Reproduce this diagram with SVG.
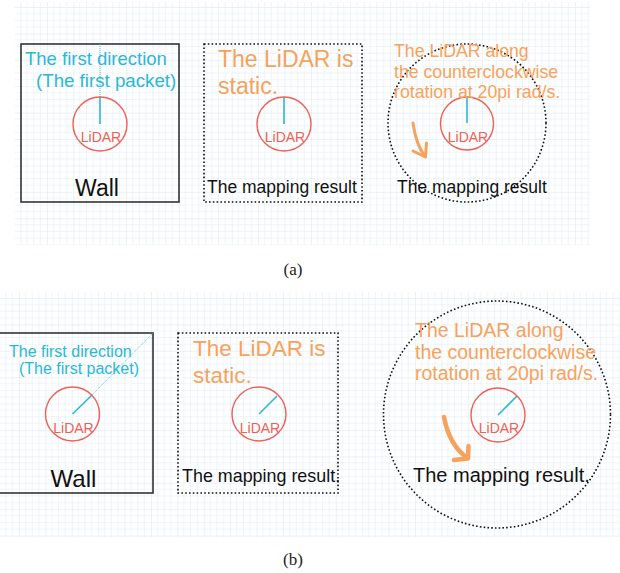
<svg xmlns="http://www.w3.org/2000/svg" width="620" height="573" viewBox="0 0 620 573">
  <defs>
    <!-- graph-paper background: minor lines every 6.6px, major every 26.4px -->
    <pattern id="grid-a" width="26.4" height="26.4" patternUnits="userSpaceOnUse" x="20.5" y="7">
      <path d="M6.6 0V26.4M13.2 0V26.4M19.8 0V26.4M0 6.6H26.4M0 13.2H26.4M0 19.8H26.4" stroke="#e8f1f8" stroke-width="0.8" fill="none"/>
      <path d="M0 0V26.4M0 0H26.4" stroke="#d6e5f0" stroke-width="1" fill="none"/>
    </pattern>
    <pattern id="grid-b" width="26.4" height="26.4" patternUnits="userSpaceOnUse" x="19" y="298">
      <path d="M6.6 0V26.4M13.2 0V26.4M19.8 0V26.4M0 6.6H26.4M0 13.2H26.4M0 19.8H26.4" stroke="#e8f1f8" stroke-width="0.8" fill="none"/>
      <path d="M0 0V26.4M0 0H26.4" stroke="#d6e5f0" stroke-width="1" fill="none"/>
    </pattern>
  </defs>
  <style>
    .wall { fill: none; stroke: #333; stroke-width: 1.6; }
    .dotted { fill: none; stroke: #111; stroke-width: 1.6; stroke-dasharray: 1.6 2.2; }
    .lidar { fill: none; stroke: #ef5f55; stroke-width: 1.4; }
    .lidar-label { font-family: "Liberation Sans", Arial, sans-serif; font-size: 14px; fill: #ef5f55; text-anchor: middle; }
    .beam { stroke: #2bb7d8; stroke-width: 1.6; fill: none; }
    .beam-dot { stroke: #2bb7d8; stroke-width: 0.8; stroke-dasharray: 1 1; fill: none; }
    .cyan { font-family: "Liberation Sans", Arial, sans-serif; fill: #2bb7d8; }
    .orange { font-family: "Liberation Sans", Arial, sans-serif; fill: #f7a25c; }
    .black { font-family: "Liberation Sans", Arial, sans-serif; fill: #111; }
    .spin { fill: none; stroke: #f7a25c; stroke-linecap: round; stroke-linejoin: round; }
    .caption { font-family: "Liberation Serif", "Times New Roman", serif; font-size: 17px; fill: #222; text-anchor: middle; }
  </style>

  <rect width="620" height="573" fill="#fff"/>
  <rect x="15" y="2" width="575" height="243" fill="url(#grid-a)"/>
  <rect x="0" y="292" width="620" height="245" fill="url(#grid-b)"/>

  <!-- Row (a) -->
  <g id="a-wall">
    <rect class="wall" x="21" y="44" width="158" height="158"/>
    <line class="beam-dot" x1="100" y1="44" x2="100" y2="97"/>
    <line class="beam" x1="100" y1="97" x2="100" y2="124"/>
    <circle class="lidar" cx="100" cy="124" r="27"/>
    <text class="lidar-label" x="101" y="142">LiDAR</text>
    <text class="cyan" x="25" y="65" font-size="18.5">The first direction</text>
    <text class="cyan" x="36" y="87" font-size="18.7">(The first packet)</text>
    <text class="black" x="97" y="196" font-size="23" text-anchor="middle">Wall</text>
  </g>

  <g id="a-static">
    <rect class="dotted" x="204" y="44" width="158" height="158"/>
    <line class="beam" x1="284" y1="97" x2="284" y2="124"/>
    <circle class="lidar" cx="284" cy="124" r="27"/>
    <text class="lidar-label" x="285" y="142">LiDAR</text>
    <text class="orange" x="218" y="67" font-size="23">The LiDAR is</text>
    <text class="orange" x="218" y="94" font-size="23">static.</text>
    <text class="black" x="207" y="193" font-size="17.5">The mapping result</text>
  </g>

  <g id="a-rotating">
    <circle class="dotted" cx="467" cy="123" r="79"/>
    <line class="beam" x1="467" y1="97" x2="467" y2="123"/>
    <circle class="lidar" cx="467" cy="123.5" r="26.5"/>
    <text class="lidar-label" x="468" y="142">LiDAR</text>
    <text class="orange" font-size="17.7">
      <tspan x="394" y="57">The LiDAR along</tspan>
      <tspan x="394" y="78">the counterclockwise</tspan>
      <tspan x="394" y="98">rotation at 20pi rad/s.</tspan>
    </text>
    <text class="black" x="397" y="193" font-size="17.5">The mapping result</text>
  </g>

  <!-- Row (b) -->
  <g id="b-wall">
    <rect class="wall" x="-2" y="333" width="155" height="160"/>
    <line class="beam-dot" x1="92" y1="395" x2="153" y2="333"/>
    <line class="beam" x1="72.5" y1="414" x2="92" y2="395"/>
    <circle class="lidar" cx="72.5" cy="414" r="27"/>
    <text class="lidar-label" x="73.5" y="433">LiDAR</text>
    <text class="cyan" x="9" y="357" font-size="16">The first direction</text>
    <text class="cyan" x="19" y="374" font-size="16">(The first packet)</text>
    <text class="black" x="73.5" y="487" font-size="24" text-anchor="middle">Wall</text>
  </g>

  <g id="b-static">
    <rect class="dotted" x="178" y="333" width="160" height="160"/>
    <line class="beam" x1="259" y1="414" x2="277" y2="396"/>
    <circle class="lidar" cx="259" cy="414" r="27"/>
    <text class="lidar-label" x="260" y="433">LiDAR</text>
    <text class="orange" x="193" y="356" font-size="22.5">The LiDAR is</text>
    <text class="orange" x="193" y="383" font-size="22.5">static.</text>
    <text class="black" x="182" y="482" font-size="17.9">The mapping result.</text>
  </g>

  <g id="b-rotating">
    <circle class="dotted" cx="497" cy="414.5" r="113.5"/>
    <line class="beam" x1="498" y1="415" x2="517" y2="396"/>
    <circle class="lidar" cx="498" cy="415" r="27"/>
    <text class="lidar-label" x="499" y="433">LiDAR</text>
    <text class="orange" font-size="19.5">
      <tspan x="415" y="337">The LiDAR along</tspan>
      <tspan x="415" y="358.5">the counterclockwise</tspan>
      <tspan x="415" y="380">rotation at 20pi rad/s.</tspan>
    </text>
    <text class="black" x="413" y="482" font-size="20">The mapping result.</text>
  </g>

  <!-- rotation arrows -->
  <g id="connectors">
    <path class="spin" stroke-width="3" d="M413 123 Q416 145 425 156"/>
    <path class="spin" stroke-width="3" d="M413 151 L425.5 157 L426.5 143"/>
    <path class="spin" stroke-width="4.5" d="M444 417 Q449 444 466 457"/>
    <path class="spin" stroke-width="4.5" d="M454 460 L468 458.5 L468.5 446"/>
  </g>

  <text class="caption" x="293" y="275">(a)</text>
  <text class="caption" x="293" y="565">(b)</text>
</svg>
